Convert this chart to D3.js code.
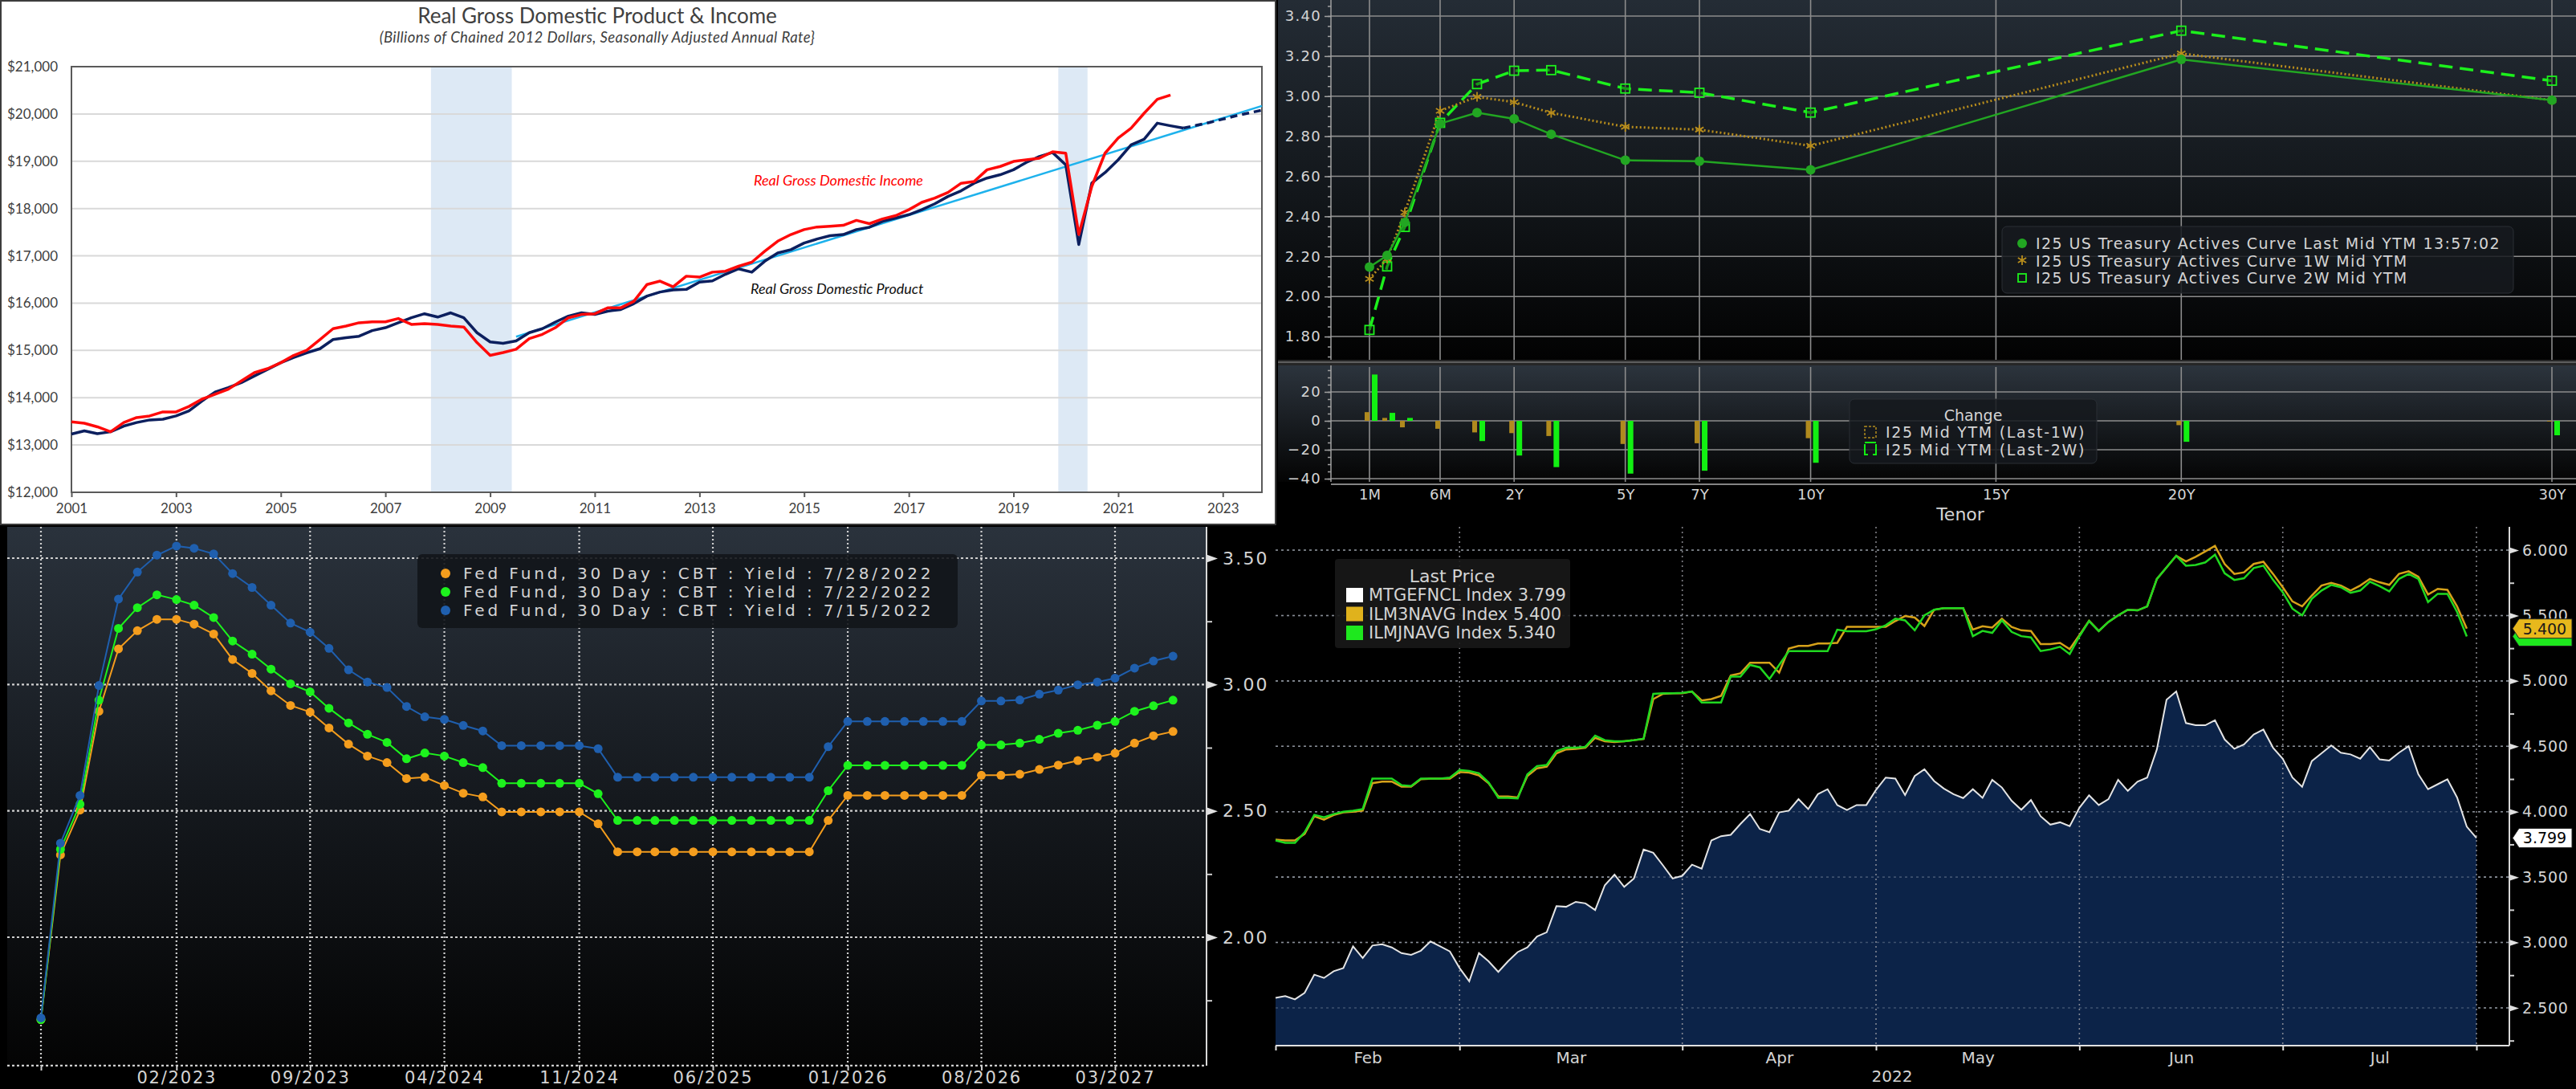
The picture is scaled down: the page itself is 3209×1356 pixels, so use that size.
<!DOCTYPE html>
<html>
<head>
<meta charset="utf-8">
<script src="https://cdn.jsdelivr.net/npm/d3@7/dist/d3.min.js"></script>
<style>
  body { margin: 0; background: #000; }
  svg { display: block; }
  .bb text { font-family: "DejaVu Sans", sans-serif; fill: #d4d4d4; }
  .tl text { font-family: Lato, "Open Sans", sans-serif; fill: #404040; }
</style>
</head>
<body>
<svg></svg>
<script>
// ---------- panel 1 : real GDP & GDI, $bn chained 2012, quarterly from 2001Q1
const gdpValues = [
  13230, 13300, 13240, 13280, 13400, 13475, 13530, 13545, 13615, 13720, 13930, 14120,
  14215, 14320, 14460, 14600, 14740, 14850, 14950, 15035, 15230, 15270, 15300, 15420,
  15480, 15585, 15690, 15775, 15705, 15795, 15690, 15375, 15180, 15150, 15200, 15375,
  15460, 15600, 15725, 15795, 15760, 15830, 15865, 15990, 16150, 16235, 16280, 16290,
  16445, 16470, 16610, 16725, 16655, 16885, 17060, 17130, 17270, 17355, 17425, 17450,
  17555, 17605, 17730, 17800, 17870, 17975, 18100, 18255, 18375, 18535, 18645, 18715,
  18820, 18975, 19100, 19185, 18925, 17240, 18540, 18760, 19030, 19345, 19465, 19805,
  19750, 19700
];
const gdiValues = [
  13490, 13460, 13385, 13280, 13475, 13580, 13615, 13700, 13700, 13815, 13970, 14075,
  14180, 14355, 14530, 14615, 14740, 14895, 15005, 15230, 15460, 15515, 15585, 15605,
  15605, 15675, 15550, 15565, 15550, 15515, 15495, 15165, 14895, 14955, 15025, 15250,
  15340, 15480, 15690, 15760, 15775, 15900, 15900, 16040, 16395, 16465, 16345, 16570,
  16550, 16655, 16675, 16780, 16865, 17095, 17310, 17450, 17555, 17610, 17625, 17645,
  17750, 17680, 17780, 17850, 17975, 18130, 18220, 18340, 18535, 18570, 18820, 18890,
  18995, 19030, 19065, 19200, 19170, 17450, 18470, 19170, 19490, 19700, 20015, 20310,
  20400
];
// forecast 2022Q2 .. 2023Q4
const gdpForecast = [19700, 19760, 19820, 19890, 19960, 20020, 20080];
const trendDates = [new Date(2009, 6, 1), new Date(2023, 9, 1)];
const trendValues = [15290, 20170];
const recessions = [
  [new Date(2007, 10, 15), new Date(2009, 5, 1)],
  [new Date(2019, 10, 10), new Date(2020, 5, 1)]
];
const gdpYearTicks = [2001, 2003, 2005, 2007, 2009, 2011, 2013, 2015, 2017, 2019, 2021, 2023];
const gdpValueTicks = [12000, 13000, 14000, 15000, 16000, 17000, 18000, 19000, 20000, 21000];

// ---------- panel 2 : I25 US Treasury actives curve
const tenorLabels = ["1M", "2M", "3M", "6M", "1Y", "2Y", "3Y", "5Y", "7Y", "10Y", "20Y", "30Y"];
const tenorYears = [1 / 12, 2 / 12, 3 / 12, 0.5, 1, 2, 3, 5, 7, 10, 20, 30];
const ytmLast = [2.147, 2.205, 2.370, 2.863, 2.918, 2.887, 2.810, 2.680, 2.675, 2.632, 3.183, 2.980];
const ytm1W = [2.088, 2.188, 2.420, 2.927, 2.997, 2.970, 2.917, 2.847, 2.833, 2.752, 3.213, 2.980];
const ytm2W = [1.833, 2.150, 2.347, 2.867, 3.060, 3.127, 3.130, 3.038, 3.017, 2.918, 3.327, 3.077];
const chgLast1W = [6, 2, -4.5, -5.5, -8, -8.5, -10.5, -16, -15.5, -12, -3, -0.5];
const chgLast2W = [32, 5.5, 2, 0, -14, -24, -32, -36.5, -34.5, -29, -14.5, -10];
const tenorTickLabels = ["1M", "6M", "2Y", "5Y", "7Y", "10Y", "15Y", "20Y", "30Y"];
const tenorTickYears = [1 / 12, 0.5, 2, 5, 7, 10, 15, 20, 30];
const ytmTicks = [1.8, 2.0, 2.2, 2.4, 2.6, 2.8, 3.0, 3.2, 3.4];
const chgTicks = [-40, -20, 0, 20];

// ---------- panel 3 : fed fund 30 day futures, CBT, monthly contracts from 07/2022
const ff0728 = [
  1.674, 2.326, 2.503, 2.894, 3.141, 3.213, 3.258, 3.258, 3.239, 3.200,
  3.099, 3.044, 2.975, 2.917, 2.891, 2.828, 2.764, 2.717, 2.691, 2.628,
  2.633, 2.600, 2.570, 2.555, 2.496, 2.496, 2.496, 2.496, 2.496, 2.449,
  2.338, 2.338, 2.338, 2.338, 2.338, 2.338, 2.338, 2.338, 2.338, 2.338,
  2.338, 2.462, 2.561, 2.561, 2.561, 2.561, 2.561, 2.561, 2.561, 2.641,
  2.641, 2.645, 2.664, 2.681, 2.699, 2.713, 2.728, 2.768, 2.797, 2.814
];
const ff0722 = [
  1.674, 2.348, 2.526, 2.938, 3.222, 3.304, 3.355, 3.336, 3.314, 3.265,
  3.172, 3.120, 3.061, 3.003, 2.971, 2.906, 2.848, 2.803, 2.771, 2.706,
  2.729, 2.717, 2.691, 2.671, 2.609, 2.609, 2.609, 2.609, 2.609, 2.568,
  2.462, 2.462, 2.462, 2.462, 2.462, 2.462, 2.462, 2.462, 2.462, 2.462,
  2.462, 2.580, 2.680, 2.680, 2.680, 2.680, 2.680, 2.680, 2.680, 2.761,
  2.761, 2.768, 2.783, 2.807, 2.819, 2.839, 2.854, 2.894, 2.916, 2.938
];
const ff0715 = [
  1.681, 2.372, 2.561, 2.996, 3.338, 3.445, 3.512, 3.548, 3.539, 3.517,
  3.439, 3.384, 3.314, 3.243, 3.207, 3.143, 3.058, 3.010, 2.988, 2.913,
  2.872, 2.862, 2.838, 2.816, 2.758, 2.758, 2.758, 2.758, 2.758, 2.746,
  2.633, 2.633, 2.633, 2.633, 2.633, 2.633, 2.633, 2.633, 2.633, 2.633,
  2.633, 2.754, 2.854, 2.854, 2.854, 2.854, 2.854, 2.854, 2.854, 2.935,
  2.935, 2.939, 2.962, 2.978, 2.999, 3.010, 3.025, 3.065, 3.093, 3.112
];
const ffSeriesNames = [
  "Fed Fund, 30 Day : CBT : Yield : 7/28/2022",
  "Fed Fund, 30 Day : CBT : Yield : 7/22/2022",
  "Fed Fund, 30 Day : CBT : Yield : 7/15/2022"
];
const ffTickMonths = ["2022-07", "2023-02", "2023-09", "2024-04", "2024-11", "2025-06", "2026-01", "2026-08", "2027-03"];
const ffValueTicks = [2.0, 2.5, 3.0, 3.5];
const ffMinorTicks = [1.75, 2.25, 2.75, 3.25];

// ---------- panel 4 : daily, trading day index from 1 Feb 2022
const mtgefncl = [
  2.577, 2.590, 2.565, 2.615, 2.754, 2.729, 2.780, 2.805, 2.970, 2.881,
  2.977, 2.987, 2.962, 2.919, 2.906, 2.937, 3.008, 2.970, 2.932, 2.805,
  2.704, 2.919, 2.856, 2.775, 2.856, 2.927, 2.962, 3.046, 3.078, 3.278,
  3.273, 3.311, 3.299, 3.248, 3.438, 3.519, 3.425, 3.489, 3.711, 3.686,
  3.590, 3.489, 3.510, 3.595, 3.565, 3.780, 3.813, 3.823, 3.906, 3.982,
  3.868, 3.843, 3.995, 4.008, 4.096, 4.020, 4.134, 4.172, 4.051, 4.013,
  4.051, 4.051, 4.167, 4.261, 4.253, 4.127, 4.273, 4.324, 4.235, 4.177,
  4.134, 4.104, 4.172, 4.106, 4.243, 4.185, 4.084, 4.015, 4.089, 3.965,
  3.901, 3.919, 3.889, 4.030, 4.125, 4.051, 4.096, 4.243, 4.159, 4.230,
  4.261, 4.476, 4.856, 4.919, 4.678, 4.661, 4.661, 4.699, 4.552, 4.481,
  4.514, 4.590, 4.628, 4.489, 4.405, 4.261, 4.190, 4.387, 4.446, 4.506,
  4.451, 4.438, 4.405, 4.494, 4.400, 4.392, 4.451, 4.501, 4.286, 4.172,
  4.210, 4.248, 4.109, 3.886, 3.799
];
const ilm3navg = [
  3.787, 3.780, 3.780, 3.830, 3.965, 3.939, 3.975, 3.995, 4.000, 4.008,
  4.218, 4.230, 4.230, 4.192, 4.192, 4.248, 4.253, 4.253, 4.253, 4.304,
  4.299, 4.278, 4.218, 4.116, 4.116, 4.109, 4.273, 4.332, 4.344, 4.446,
  4.476, 4.481, 4.489, 4.565, 4.539, 4.532, 4.539, 4.547, 4.557, 4.861,
  4.901, 4.906, 4.906, 4.919, 4.851, 4.861, 4.886, 5.041, 5.058, 5.139,
  5.139, 5.139, 5.063, 5.248, 5.268, 5.268, 5.286, 5.286, 5.291, 5.413,
  5.413, 5.413, 5.413, 5.413, 5.458, 5.496, 5.484, 5.420, 5.544, 5.557,
  5.557, 5.557, 5.392, 5.418, 5.408, 5.476, 5.413, 5.387, 5.382, 5.281,
  5.281, 5.291, 5.243, 5.350, 5.460, 5.382, 5.451, 5.501, 5.544, 5.539,
  5.570, 5.780, 5.868, 5.957, 5.914, 5.949, 5.990, 6.033, 5.894, 5.818,
  5.830, 5.894, 5.911, 5.818, 5.716, 5.608, 5.570, 5.653, 5.729, 5.749,
  5.729, 5.691, 5.729, 5.780, 5.754, 5.734, 5.818, 5.838, 5.797, 5.661,
  5.704, 5.696, 5.570, 5.400
];
const ilmjnavg = [
  3.780, 3.762, 3.762, 3.843, 3.975, 3.957, 3.982, 4.000, 4.008, 4.020,
  4.253, 4.253, 4.253, 4.203, 4.197, 4.253, 4.253, 4.253, 4.261, 4.319,
  4.311, 4.294, 4.223, 4.106, 4.106, 4.101, 4.286, 4.349, 4.357, 4.463,
  4.489, 4.489, 4.496, 4.582, 4.547, 4.539, 4.539, 4.547, 4.557, 4.901,
  4.906, 4.906, 4.908, 4.919, 4.835, 4.835, 4.835, 5.033, 5.033, 5.122,
  5.104, 5.015, 5.122, 5.228, 5.228, 5.228, 5.228, 5.228, 5.392, 5.380,
  5.380, 5.380, 5.395, 5.425, 5.476, 5.463, 5.387, 5.501, 5.544, 5.557,
  5.557, 5.557, 5.342, 5.382, 5.367, 5.463, 5.375, 5.342, 5.332, 5.228,
  5.241, 5.261, 5.205, 5.340, 5.458, 5.382, 5.451, 5.501, 5.544, 5.539,
  5.570, 5.780, 5.868, 5.957, 5.881, 5.886, 5.906, 5.965, 5.823, 5.772,
  5.785, 5.863, 5.881, 5.772, 5.678, 5.552, 5.501, 5.628, 5.691, 5.734,
  5.716, 5.673, 5.691, 5.759, 5.724, 5.684, 5.780, 5.818, 5.780, 5.603,
  5.666, 5.666, 5.527, 5.340
];
const lastPriceNames = ["MTGEFNCL Index", "ILM3NAVG Index", "ILMJNAVG Index"];
const monthStarts = [0, 19, 42, 62, 83, 104, 124];
const monthNames = ["Feb", "Mar", "Apr", "May", "Jun", "Jul"];
const priceTicks = [2.5, 3.0, 3.5, 4.0, 4.5, 5.0, 5.5, 6.0];
const priceMinorTicks = [2.25, 2.75, 3.25, 3.75, 4.25, 4.75, 5.25, 5.75];

// ================================================================
var svg = d3.select("svg").attr("width", 3209).attr("height", 1356);
svg.append("rect").attr("width", 3209).attr("height", 1356).attr("fill", "#000");
var defs = svg.append("defs");

function vGradient(id, stops) {
  var lg = defs.append("linearGradient").attr("id", id)
    .attr("x1", 0).attr("y1", 0).attr("x2", 0).attr("y2", 1);
  stops.forEach(function(s) {
    lg.append("stop").attr("offset", s[0]).attr("stop-color", s[1]);
  });
}
vGradient("trUpper", [[0, "#242c35"], [0.55, "#12161a"], [1, "#020202"]]);
vGradient("trLower", [[0, "#2c343d"], [1, "#040404"]]);
vGradient("blBack", [[0, "#2a323c"], [0.5, "#15191e"], [1, "#040404"]]);

function asterisk(r) {
  var a = r * 0.866, b = r * 0.5;
  return "M0," + (-r) + "L0," + r + "M" + (-a) + "," + (-b) + "L" + a + "," + b +
    "M" + (-a) + "," + b + "L" + a + "," + (-b);
}

// ---------------- panel 1 ----------------
var tl = svg.append("g").attr("class", "tl");
tl.append("rect").attr("x", 1).attr("y", 1).attr("width", 1588).attr("height", 652)
  .attr("fill", "#fff").attr("stroke", "#3c3c3c").attr("stroke-width", 2);

var quarters = d3.range(gdpValues.length).map(function(k) { return new Date(2001, 3 * k, 1); });
var fcQuarters = d3.range(gdpForecast.length).map(function(k) { return new Date(2022, 3 + 3 * k, 1); });

var x1 = d3.scaleTime().domain([new Date(2001, 0, 1), new Date(2023, 9, 1)]).range([89, 1572]);
var y1 = d3.scaleLinear().domain([12000, 21000]).range([613, 83]);

tl.selectAll(".rec").data(recessions).enter().append("rect")
  .attr("x", function(d) { return x1(d[0]); })
  .attr("width", function(d) { return x1(d[1]) - x1(d[0]); })
  .attr("y", y1(21000)).attr("height", y1(12000) - y1(21000))
  .attr("fill", "#dde9f5");

tl.append("g").selectAll("line").data(gdpValueTicks.slice(1, -1)).enter().append("line")
  .attr("x1", 89).attr("x2", 1572)
  .attr("y1", function(d) { return y1(d); }).attr("y2", function(d) { return y1(d); })
  .attr("stroke", "#d9d9d9").attr("stroke-width", 2);

var yAx1 = tl.append("g").attr("transform", "translate(89,0)")
  .call(d3.axisLeft(y1).tickValues(gdpValueTicks).tickSize(0).tickPadding(17)
    .tickFormat(function(d) { return "$" + d3.format(",")(d); }));
yAx1.select(".domain").remove();
yAx1.selectAll("text").style("font-size", "17px");

var xAx1 = tl.append("g").attr("transform", "translate(0,613)")
  .call(d3.axisBottom(x1).tickValues(gdpYearTicks.map(function(y) { return new Date(y, 0, 1); }))
    .tickSize(6).tickPadding(8).tickFormat(d3.timeFormat("%Y")));
xAx1.select(".domain").remove();
xAx1.selectAll("line").attr("stroke", "#595959").attr("stroke-width", 2);
xAx1.selectAll("text").style("font-size", "17px");

tl.append("rect").attr("x", 89).attr("y", 83).attr("width", 1572 - 89).attr("height", 613 - 83)
  .attr("fill", "none").attr("stroke", "#5a5a5a").attr("stroke-width", 2);

var line1 = d3.line().x(function(d) { return x1(d[0]); }).y(function(d) { return y1(d[1]); });

tl.append("path").datum(d3.zip(trendDates, trendValues))
  .attr("fill", "none").attr("stroke", "#1eb2ec").attr("stroke-width", 2.5).attr("d", line1);
tl.append("path").datum(d3.zip(quarters, gdpValues))
  .attr("fill", "none").attr("stroke", "#0c1f5e").attr("stroke-width", 3.5)
  .attr("stroke-linejoin", "round").attr("d", line1);
tl.append("path").datum(d3.zip(quarters.slice(0, gdiValues.length), gdiValues))
  .attr("fill", "none").attr("stroke", "#ff0a0a").attr("stroke-width", 3.5)
  .attr("stroke-linejoin", "round").attr("d", line1);
tl.append("path").datum(d3.zip(fcQuarters, gdpForecast))
  .attr("fill", "none").attr("stroke", "#0c1f5e").attr("stroke-width", 3.5)
  .attr("stroke-dasharray", "9,6").attr("d", line1);

tl.append("text").attr("x", 744).attr("y", 29).attr("text-anchor", "middle")
  .style("font-size", "26px").text("Real Gross Domestic Product & Income");
tl.append("text").attr("x", 744).attr("y", 53).attr("text-anchor", "middle")
  .style("font-size", "18.5px").style("font-style", "italic").attr("letter-spacing", "0.4")
  .text("(Billions of Chained 2012 Dollars, Seasonally Adjusted Annual Rate}");
tl.append("text").attr("x", 939).attr("y", 231).style("font-size", "18px")
  .style("font-style", "italic").style("fill", "#ff0000").text("Real Gross Domestic Income");
tl.append("text").attr("x", 935).attr("y", 366).style("font-size", "18px")
  .style("font-style", "italic").style("fill", "#111").text("Real Gross Domestic Product");

// ---------------- panel 2 ----------------
var tr = svg.append("g").attr("class", "bb");
var x2 = d3.scaleLinear().domain([1 / 12, 0.25, 0.5, 1, 30]).range([1706, 1750, 1794, 1840, 3179]);
var y2 = d3.scaleLinear().domain([1.684, 3.48]).range([448, 0]);
var y2c = d3.scaleLinear().domain([-42.2, 38.3]).range([600, 455]);

tr.append("rect").attr("x", 1592).attr("y", 0).attr("width", 1617).attr("height", 448).attr("fill", "url(#trUpper)");
tr.append("rect").attr("x", 1592).attr("y", 455).attr("width", 1617).attr("height", 145).attr("fill", "url(#trLower)");
tr.append("rect").attr("x", 1592).attr("y", 448).attr("width", 1617).attr("height", 7).attr("fill", "#262626");
tr.append("line").attr("x1", 1592).attr("x2", 3209).attr("y1", 451).attr("y2", 451).attr("stroke", "#5e5e5e").attr("stroke-width", 2);

var gridCol = "#8c8c8c";
tr.append("g").selectAll("line").data(tenorTickYears).enter().append("line")
  .attr("x1", function(d) { return x2(d); }).attr("x2", function(d) { return x2(d); })
  .attr("y1", 0).attr("y2", 448).attr("stroke", gridCol).attr("stroke-width", 1.6);
tr.append("g").selectAll("line").data(tenorTickYears).enter().append("line")
  .attr("x1", function(d) { return x2(d); }).attr("x2", function(d) { return x2(d); })
  .attr("y1", 457).attr("y2", 600).attr("stroke", gridCol).attr("stroke-width", 1.6);
tr.append("g").selectAll("line").data(ytmTicks).enter().append("line")
  .attr("x1", 1658).attr("x2", 3209)
  .attr("y1", function(d) { return y2(d); }).attr("y2", function(d) { return y2(d); })
  .attr("stroke", gridCol).attr("stroke-width", 1.6);
tr.append("g").selectAll("line").data(chgTicks).enter().append("line")
  .attr("x1", 1658).attr("x2", 3209)
  .attr("y1", function(d) { return y2c(d); }).attr("y2", function(d) { return y2c(d); })
  .attr("stroke", gridCol).attr("stroke-width", 1.6);

var yAx2 = tr.append("g").attr("transform", "translate(1658,0)")
  .call(d3.axisLeft(y2).tickValues(ytmTicks).tickSize(8).tickPadding(4).tickFormat(d3.format(".2f")));
var yAx2m = tr.append("g").attr("transform", "translate(1658,0)")
  .call(d3.axisLeft(y2).tickValues(d3.range(1.70, 3.46, 0.05)).tickSize(4).tickFormat(""));
var yAx2c = tr.append("g").attr("transform", "translate(1658,0)")
  .call(d3.axisLeft(y2c).tickValues(chgTicks).tickSize(8).tickPadding(4));
var yAx2cm = tr.append("g").attr("transform", "translate(1658,0)")
  .call(d3.axisLeft(y2c).tickValues(d3.range(-40, 40, 5)).tickSize(4).tickFormat(""));
[yAx2, yAx2m, yAx2c, yAx2cm].forEach(function(a) {
  a.select(".domain").remove();
  a.selectAll("line").attr("stroke", "#a0a0a0").attr("stroke-width", 1.5);
  a.selectAll("text").style("font-size", "18px").attr("letter-spacing", "1.3");
});
tr.append("line").attr("x1", 1658).attr("x2", 1658).attr("y1", 0).attr("y2", 448).attr("stroke", "#a0a0a0").attr("stroke-width", 1.5);
tr.append("line").attr("x1", 1658).attr("x2", 1658).attr("y1", 455).attr("y2", 600).attr("stroke", "#a0a0a0").attr("stroke-width", 1.5);
tr.append("line").attr("x1", 1658).attr("x2", 3209).attr("y1", 603).attr("y2", 603).attr("stroke", "#b0b0b0").attr("stroke-width", 1.5);

var xAx2 = tr.append("g").attr("transform", "translate(0,603)")
  .call(d3.axisBottom(x2).tickValues(tenorTickYears).tickSize(0).tickPadding(6)
    .tickFormat(function(d, i) { return tenorTickLabels[i]; }));
xAx2.select(".domain").remove();
xAx2.selectAll("text").style("font-size", "18px");
tr.append("text").attr("x", 2442).attr("y", 648).attr("text-anchor", "middle")
  .style("font-size", "22px").text("Tenor");

var curve = d3.zip(tenorYears, ytmLast, ytm1W, ytm2W, chgLast1W, chgLast2W);
function ytmLine(k) {
  return d3.line().x(function(d) { return x2(d[0]); }).y(function(d) { return y2(d[k]); });
}
var green2W = "#1cf01c", gold1W = "#b88d1c", greenLast = "#22a622";
tr.append("path").datum(curve).attr("fill", "none").attr("stroke", green2W)
  .attr("stroke-width", 3.5).attr("stroke-dasharray", "17,9").attr("d", ytmLine(3));
tr.append("g").selectAll("rect").data(curve).enter().append("rect")
  .attr("x", function(d) { return x2(d[0]) - 5.5; }).attr("y", function(d) { return y2(d[3]) - 5.5; })
  .attr("width", 11).attr("height", 11).attr("fill", "#111").attr("fill-opacity", 0.4)
  .attr("stroke", green2W).attr("stroke-width", 1.8);
tr.append("path").datum(curve).attr("fill", "none").attr("stroke", gold1W)
  .attr("stroke-width", 3).attr("stroke-dasharray", "2,3").attr("d", ytmLine(2));
tr.append("g").selectAll("path").data(curve).enter().append("path")
  .attr("transform", function(d) { return "translate(" + x2(d[0]) + "," + y2(d[2]) + ")"; })
  .attr("d", asterisk(6)).attr("stroke", gold1W).attr("stroke-width", 1.8);
tr.append("path").datum(curve).attr("fill", "none").attr("stroke", greenLast)
  .attr("stroke-width", 2.5).attr("d", ytmLine(1));
tr.append("g").selectAll("circle").data(curve).enter().append("circle")
  .attr("cx", function(d) { return x2(d[0]); }).attr("cy", function(d) { return y2(d[1]); })
  .attr("r", 6).attr("fill", greenLast);

// change bars (bp)
tr.append("g").selectAll("rect").data(curve).enter().append("rect")
  .attr("x", function(d) { return x2(d[0]) - 6; }).attr("width", 6)
  .attr("y", function(d) { return y2c(Math.max(0, d[4])); })
  .attr("height", function(d) { return Math.abs(y2c(d[4]) - y2c(0)); })
  .attr("fill", "#b08a1e");
tr.append("g").selectAll("rect").data(curve).enter().append("rect")
  .attr("x", function(d) { return x2(d[0]) + 3; }).attr("width", 7)
  .attr("y", function(d) { return y2c(Math.max(0, d[5])); })
  .attr("height", function(d) { return Math.abs(y2c(d[5]) - y2c(0)); })
  .attr("fill", "#12f012");

// legends
var lg2 = tr.append("g");
lg2.append("rect").attr("x", 2494).attr("y", 282).attr("width", 637).attr("height", 83).attr("rx", 6)
  .attr("fill", "#161a1f").attr("fill-opacity", 0.85).attr("stroke", "#2a2f35");
var lgItems = ["I25 US Treasury Actives Curve Last Mid YTM 13:57:02",
  "I25 US Treasury Actives Curve 1W Mid YTM", "I25 US Treasury Actives Curve 2W Mid YTM"];
lg2.selectAll("text").data(lgItems).enter().append("text")
  .attr("x", 2536).attr("y", function(d, i) { return 310 + i * 21.5; })
  .style("font-size", "19px").attr("letter-spacing", "1.4").text(function(d) { return d; });
lg2.append("circle").attr("cx", 2519).attr("cy", 303).attr("r", 6).attr("fill", greenLast);
lg2.append("path").attr("transform", "translate(2519,324)").attr("d", asterisk(6)).attr("stroke", gold1W).attr("stroke-width", 1.8);
lg2.append("rect").attr("x", 2514).attr("y", 341).attr("width", 10).attr("height", 10).attr("fill", "none").attr("stroke", green2W).attr("stroke-width", 1.8);

var lgc = tr.append("g");
lgc.append("rect").attr("x", 2304).attr("y", 497).attr("width", 308).attr("height", 80).attr("rx", 6)
  .attr("fill", "#15191d").attr("fill-opacity", 0.85).attr("stroke", "#2a2f35");
lgc.append("text").attr("x", 2458).attr("y", 524).attr("text-anchor", "middle").style("font-size", "19px").text("Change");
lgc.append("text").attr("x", 2349).attr("y", 545).style("font-size", "19px").attr("letter-spacing", "1.7").text("I25 Mid YTM (Last-1W)");
lgc.append("text").attr("x", 2349).attr("y", 567).style("font-size", "19px").attr("letter-spacing", "1.7").text("I25 Mid YTM (Last-2W)");
lgc.append("rect").attr("x", 2323).attr("y", 531).attr("width", 14).attr("height", 14).attr("fill", "none")
  .attr("stroke", "#b08a1e").attr("stroke-width", 1.5).attr("stroke-dasharray", "3,2");
lgc.append("path").attr("d", "M2323,551h14M2323,553v13h4M2337,553v13h-4").attr("fill", "none")
  .attr("stroke", "#12f012").attr("stroke-width", 2);

// ---------------- panel 3 ----------------
var bl = svg.append("g").attr("class", "bb");
var parseMonth = d3.timeParse("%Y-%m");
var ffDates = d3.range(ff0728.length).map(function(i) { return new Date(2022, 6 + i, 1); });
var x3 = d3.scaleTime().domain([new Date(2022, 6, 1), new Date(2027, 2, 1)]).range([51, 1389]);
var y3 = d3.scaleLinear().domain([2.0, 3.5]).range([1167, 695]);

bl.append("rect").attr("x", 9).attr("y", 656).attr("width", 1494).attr("height", 671).attr("fill", "url(#blBack)");

var ffTicks = ffTickMonths.map(parseMonth);
bl.append("g").selectAll("line").data(ffTicks).enter().append("line")
  .attr("x1", function(d) { return x3(d); }).attr("x2", function(d) { return x3(d); })
  .attr("y1", 656).attr("y2", 1327)
  .attr("stroke", "#cfcfcf").attr("stroke-width", 2.2).attr("stroke-dasharray", "2,3");
bl.append("g").selectAll("line").data(ffValueTicks.concat([1.492])).enter().append("line")
  .attr("x1", 9).attr("x2", 1503)
  .attr("y1", function(d) { return y3(d); }).attr("y2", function(d) { return y3(d); })
  .attr("stroke", "#cfcfcf").attr("stroke-width", 2.2).attr("stroke-dasharray", "3,3");

var xAx3 = bl.append("g").attr("transform", "translate(0,1327)")
  .call(d3.axisBottom(x3).tickValues(ffTicks).tickSize(6).tickPadding(1)
    .tickFormat(function(d, i) { return i === 0 ? "" : d3.timeFormat("%m/%Y")(d); }));
xAx3.select(".domain").remove();
xAx3.selectAll("line").attr("stroke", "#cfcfcf").attr("stroke-width", 2);
xAx3.selectAll("text").style("font-size", "21px").attr("letter-spacing", "1.8");

var yAx3 = bl.append("g").attr("transform", "translate(1503,0)")
  .call(d3.axisRight(y3).tickValues(ffValueTicks).tickSize(0).tickPadding(20).tickFormat(d3.format(".2f")));
yAx3.select(".domain").remove();
yAx3.selectAll("text").style("font-size", "22px").attr("letter-spacing", "2.2");
yAx3.selectAll(".tick").append("path").attr("d", "M0,-5L14,0L0,5Z").attr("fill", "#e0e0e0");
var yAx3m = bl.append("g").attr("transform", "translate(1503,0)")
  .call(d3.axisRight(y3).tickValues(ffMinorTicks).tickSize(7).tickFormat(""));
yAx3m.select(".domain").remove();
yAx3m.selectAll("line").attr("stroke", "#cfcfcf").attr("stroke-width", 2);
bl.append("line").attr("x1", 1503).attr("x2", 1503).attr("y1", 656).attr("y2", 1327)
  .attr("stroke", "#d8d8d8").attr("stroke-width", 2);

var ffColors = ["#f49d1d", "#1df21d", "#1f5fae"];
var ffSeries = [ff0728, ff0722, ff0715];
var line3 = d3.line().x(function(d) { return x3(d[0]); }).y(function(d) { return y3(d[1]); });
ffSeries.forEach(function(vals, k) {
  var pts = d3.zip(ffDates, vals);
  bl.append("path").datum(pts).attr("fill", "none").attr("stroke", ffColors[k])
    .attr("stroke-width", 2).attr("d", line3);
  bl.append("g").selectAll("circle").data(pts).enter().append("circle")
    .attr("cx", function(d) { return x3(d[0]); }).attr("cy", function(d) { return y3(d[1]); })
    .attr("r", 5.5).attr("fill", ffColors[k]);
});

var lg3 = bl.append("g");
lg3.append("rect").attr("x", 520).attr("y", 690).attr("width", 673).attr("height", 92).attr("rx", 6)
  .attr("fill", "#121519").attr("fill-opacity", 0.9);
ffSeriesNames.forEach(function(n, i) {
  lg3.append("circle").attr("cx", 555).attr("cy", 714 + i * 23).attr("r", 6).attr("fill", ffColors[i]);
  lg3.append("text").attr("x", 577).attr("y", 721 + i * 23).style("font-size", "20px")
    .attr("letter-spacing", "3.9").text(n);
});

// ---------------- panel 4 ----------------
var br = svg.append("g").attr("class", "bb");
var x4 = d3.scaleLinear().domain([0, 124]).range([1589, 3085]);
var y4 = d3.scaleLinear().domain([2.5, 6.0]).range([1255, 685]);

br.append("g").selectAll("line").data(priceTicks).enter().append("line")
  .attr("x1", 1589).attr("x2", 3126)
  .attr("y1", function(d) { return y4(d); }).attr("y2", function(d) { return y4(d); })
  .attr("stroke", "#8e8e8e").attr("stroke-width", 1.6).attr("stroke-dasharray", "3,4");

var area4 = d3.area().x(function(d, i) { return x4(i); }).y0(1302).y1(function(d) { return y4(d); });
br.append("path").datum(mtgefncl).attr("fill", "#0c2348").attr("d", area4);

// grid over the area, as the original shows it through the fill
br.append("g").selectAll("line").data(priceTicks).enter().append("line")
  .attr("x1", 1589).attr("x2", 3126)
  .attr("y1", function(d) { return y4(d); }).attr("y2", function(d) { return y4(d); })
  .attr("stroke", "#7f8ba0").attr("stroke-opacity", 0.45).attr("stroke-width", 1.6).attr("stroke-dasharray", "3,4");
br.append("g").selectAll("line").data(monthStarts.slice(1)).enter().append("line")
  .attr("x1", function(d) { return x4(d); }).attr("x2", function(d) { return x4(d); })
  .attr("y1", 656).attr("y2", 1302)
  .attr("stroke", "#a0a0a8").attr("stroke-opacity", 0.8).attr("stroke-width", 1.6).attr("stroke-dasharray", "2,4");

var line4 = d3.line().x(function(d, i) { return x4(i); }).y(function(d) { return y4(d); });
br.append("path").datum(mtgefncl).attr("fill", "none").attr("stroke", "#e4e4e4").attr("stroke-width", 2).attr("d", line4);
br.append("path").datum(ilm3navg).attr("fill", "none").attr("stroke", "#d6a21a").attr("stroke-width", 2.5).attr("d", line4);
br.append("path").datum(ilmjnavg).attr("fill", "none").attr("stroke", "#20d820").attr("stroke-width", 2.5).attr("d", line4);

var xAx4 = br.append("g").attr("transform", "translate(0,1302)")
  .call(d3.axisBottom(x4).tickValues(monthStarts).tickSize(6).tickFormat(""));
xAx4.select(".domain").remove();
xAx4.selectAll("line").attr("stroke", "#e0e0e0").attr("stroke-width", 2);
br.append("line").attr("x1", 1589).attr("x2", 3126).attr("y1", 1302).attr("y2", 1302).attr("stroke", "#e0e0e0").attr("stroke-width", 2);
var monthMids = monthNames.map(function(m, i) { return (monthStarts[i] + monthStarts[i + 1]) / 2; });
var xAx4l = br.append("g").attr("transform", "translate(0,1302)")
  .call(d3.axisBottom(x4).tickValues(monthMids).tickSize(0).tickPadding(8)
    .tickFormat(function(d, i) { return monthNames[i]; }));
xAx4l.select(".domain").remove();
xAx4l.selectAll("text").style("font-size", "20px");
br.append("text").attr("x", 2357).attr("y", 1347).attr("text-anchor", "middle").style("font-size", "20px").text("2022");

var yAx4 = br.append("g").attr("transform", "translate(3126,0)")
  .call(d3.axisRight(y4).tickValues(priceTicks).tickSize(0).tickPadding(16).tickFormat(d3.format(".3f")));
yAx4.select(".domain").remove();
yAx4.selectAll("text").style("font-size", "19px").attr("letter-spacing", "0.6");
yAx4.selectAll(".tick").append("path").attr("d", "M0,-4L12,0L0,4Z").attr("fill", "#e0e0e0");
var yAx4m = br.append("g").attr("transform", "translate(3126,0)")
  .call(d3.axisRight(y4).tickValues(priceMinorTicks).tickSize(6).tickFormat(""));
yAx4m.select(".domain").remove();
yAx4m.selectAll("line").attr("stroke", "#d0d0d0").attr("stroke-width", 2);
br.append("line").attr("x1", 3126).attr("x2", 3126).attr("y1", 656).attr("y2", 1302).attr("stroke", "#d8d8d8").attr("stroke-width", 2);

// last value tags on the right axis; the ILMJNAVG tag sits under the ILM3NAVG one
var lastTags = [
  { v: ilmjnavg[ilmjnavg.length - 1], fill: "#1ee81e", text: "#0a0a0a" },
  { v: ilm3navg[ilm3navg.length - 1], fill: "#e8b81c", text: "#1a1a1a" },
  { v: mtgefncl[mtgefncl.length - 1], fill: "#ffffff", text: "#000" }
];
lastTags.forEach(function(t, i) {
  var yy = y4(t.v);
  br.append("path").attr("d", "M3130," + yy + "l8,-12h66v24h-66z")
    .attr("fill", t.fill).attr("stroke", "#222").attr("stroke-width", 1);
  if (i > 0) {
    br.append("text").attr("x", 3170).attr("y", yy + 7).attr("text-anchor", "middle")
      .style("font-size", "19px").style("fill", t.text).text(d3.format(".3f")(t.v));
  }
});

var lg4 = br.append("g");
lg4.append("rect").attr("x", 1663).attr("y", 696).attr("width", 293).attr("height", 111).attr("rx", 4)
  .attr("fill", "#181818").attr("fill-opacity", 0.9);
lg4.append("text").attr("x", 1809).attr("y", 725).attr("text-anchor", "middle").style("font-size", "22px").text("Last Price");
var lastVals = [mtgefncl[mtgefncl.length - 1], ilm3navg[ilm3navg.length - 1], ilmjnavg[ilmjnavg.length - 1]];
var swatch = ["#ffffff", "#e0b21c", "#1ee81e"];
lastPriceNames.forEach(function(n, i) {
  lg4.append("rect").attr("x", 1677).attr("y", 732 + i * 23.5).attr("width", 21).attr("height", 18).attr("fill", swatch[i]);
  lg4.append("text").attr("x", 1705).attr("y", 748 + i * 23.5).style("font-size", "21px")
    .attr("xml:space", "preserve").text(n + " " + d3.format(".3f")(lastVals[i]));
});
</script>
</body>
</html>
